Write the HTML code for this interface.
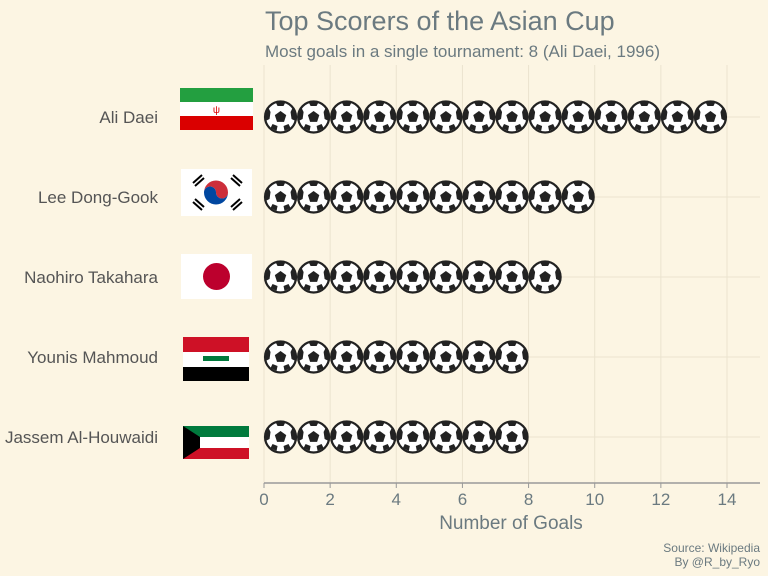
<!DOCTYPE html>
<html><head><meta charset="utf-8"><style>
body{margin:0;background:#fcf5e3;}
svg{display:block;font-family:"Liberation Sans Narrow","Liberation Sans",sans-serif;}
</style></head><body>
<svg id="chart" width="768" height="576" viewBox="0 0 768 576">
<defs>
<g id="ball">
<circle r="15.5" fill="#fff" stroke="#222" stroke-width="2.2"/>
<polygon points="0,-6 5.7,-1.9 3.5,4.9 -3.5,4.9 -5.7,-1.9" fill="#222"/>
<path d="M-5,-15 L5,-15 L3,-11 L-3,-11Z" fill="#222"/>
<path d="M12,-9 L15,-2 L15,4 L11,2 L10,-5Z" fill="#222"/>
<path d="M-12,-9 L-15,-2 L-15,4 L-11,2 L-10,-5Z" fill="#222"/>
<path d="M4,14 L10,11 L8,7 L3,9Z" fill="#222"/>
<path d="M-4,14 L-10,11 L-8,7 L-3,9Z" fill="#222"/>
</g>
</defs>
<rect width="768" height="576" fill="#fcf5e3"/>
<text x="265" y="30" font-size="27" fill="#6b7a80">Top Scorers of the Asian Cup</text>
<text x="265" y="57" font-size="17" fill="#6b7a80">Most goals in a single tournament: 8 (Ali Daei, 1996)</text>
<g id="grid"></g>
<g id="flags">
<g><rect x="180" y="88" width="73" height="14" fill="#239f40"/><rect x="180" y="102" width="73" height="14" fill="#fff"/><rect x="180" y="116" width="73" height="14" fill="#da0000"/><text x="216.5" y="113" font-size="10" fill="#da0000" text-anchor="middle">ψ</text></g>
<g><rect x="181" y="169" width="71" height="47" fill="#fff"/><path d="M204,192.5 a12,12 0 0 1 24,0 a6,6 0 0 1 -12,0 a6,6 0 0 0 -12,0Z" fill="#cd2e3a"/><path d="M204,192.5 a12,12 0 0 0 24,0 a6,6 0 0 1 -12,0 a6,6 0 0 0 -12,0Z" fill="#0047a0"/><g stroke="#000" stroke-width="2"><line x1="193" y1="183" x2="202" y2="175"/><line x1="195" y1="186" x2="204" y2="178"/><line x1="231" y1="178" x2="240" y2="186"/><line x1="233" y1="175" x2="242" y2="183"/><line x1="193" y1="202" x2="202" y2="210"/><line x1="195" y1="199" x2="204" y2="207"/><line x1="231" y1="207" x2="240" y2="199"/><line x1="233" y1="210" x2="242" y2="202"/></g></g>
<g><rect x="181" y="254" width="71" height="45" fill="#fff"/><circle cx="216.5" cy="276.5" r="13.5" fill="#bc002d"/></g>
<g><rect x="183" y="337" width="66" height="15" fill="#ce1126"/><rect x="183" y="352" width="66" height="15" fill="#fff"/><rect x="183" y="367" width="66" height="14" fill="#000"/><rect x="203" y="356" width="26" height="5" fill="#007a3d"/></g>
<g><rect x="183" y="426" width="66" height="11" fill="#007a3d"/><rect x="183" y="437" width="66" height="11" fill="#fff"/><rect x="183" y="448" width="66" height="11" fill="#ce1126"/><polygon points="183,426 200,437 200,448 183,459" fill="#000"/></g>
</g>
<g id="balls"></g>
<g id="axis"></g>
<text x="511" y="529" font-size="19" fill="#6b7a80" text-anchor="middle">Number of Goals</text>
<text x="760" y="552" font-size="12" fill="#6b7a80" text-anchor="end">Source: Wikipedia</text>
<text x="760" y="566" font-size="12" fill="#6b7a80" text-anchor="end">By @R_by_Ryo</text>
</svg>
<script>
const players=["Ali Daei","Lee Dong-Gook","Naohiro Takahara","Younis Mahmoud","Jassem Al-Houwaidi"];
const goals=[14,10,9,8,8];
const xTicks=[0,2,4,6,8,10,12,14];
const NS="http://www.w3.org/2000/svg";
const x0=264,x1=727,xMax=14;
function xs(v){return x0+(x1-x0)*v/xMax;}
function ys(i){return 117+80*i;}
function mk(t,a,p){const e=document.createElementNS(NS,t);for(const k in a)e.setAttribute(k,a[k]);p.appendChild(e);return e;}
const grid=document.getElementById('grid'),balls=document.getElementById('balls'),axis=document.getElementById('axis');
xTicks.forEach(t=>{
  const g=mk('line',{x1:xs(t),x2:xs(t),y1:65,y2:483,stroke:'#ebe3cf','stroke-width':1},grid);
  
  
  const tk=mk('line',{x1:xs(t),x2:xs(t),y1:483,y2:488,stroke:'#999','stroke-width':1},axis);
  
  
  const lb=mk('text',{x:xs(t),y:505,'font-size':17,fill:'#6b7a80','text-anchor':'middle'},axis);
  lb.textContent=t;
  
  
});
const al=mk('line',{x1:x0,x2:760,y1:483,y2:483,stroke:'#999','stroke-width':1.5},axis);


players.forEach((p,i)=>{
  const y=ys(i);
  const hl=mk('line',{x1:x0,x2:760,y1:y,y2:y,stroke:'#ebe3cf','stroke-width':1},grid);
  
  
  const lb=mk('text',{x:158,y:y+6,'font-size':17,fill:'#555','text-anchor':'end'},axis);
  lb.textContent=p;
  
  
  const row=mk('g',{},balls);
  
  
  for(let k=0;k<goals[i];k++){
    const u=mk('use',{href:'#ball',transform:`translate(${xs(k+0.5)},${y})`},row);
    
    
  }
});
</script>
</body></html>
